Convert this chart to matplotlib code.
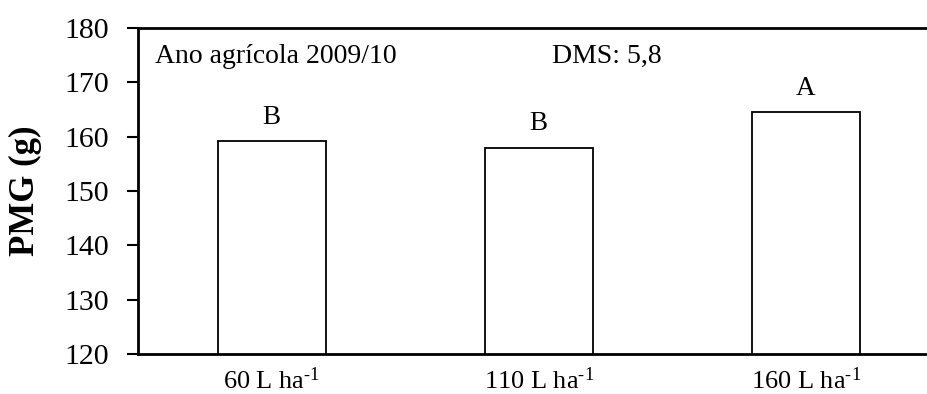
import matplotlib
matplotlib.use("Agg")
import matplotlib.pyplot as plt

# PMG por volume de calda, ano agrícola 2009/10
doses = [r"60 L ha$^{\text{-1}}$", r"110 L ha$^{\text{-1}}$", r"160 L ha$^{\text{-1}}$"]
pmg = [159.2, 158.0, 164.5]
letras = ["B", "B", "A"]
y_ticks = [120, 130, 140, 150, 160, 170, 180]

plt.rcParams["font.family"] = ["Liberation Serif", "DejaVu Serif"]
plt.rcParams["mathtext.fontset"] = "custom"
plt.rcParams["mathtext.rm"] = "Liberation Serif"
plt.rcParams["mathtext.it"] = "Liberation Serif:italic"
plt.rcParams["mathtext.bf"] = "Liberation Serif:bold"


def main() -> None:
    fig = plt.figure(figsize=(9.27, 3.94), dpi=100)
    ax = fig.add_axes([0.1489, 0.1015, 0.8646, 0.8274])

    x = range(len(doses))
    bars = ax.bar(x, pmg, width=0.405, bottom=0, color="white",
                  edgecolor="black", linewidth=1.3, zorder=2)

    for rect, val, letra in zip(bars, pmg, letras):
        ax.annotate(letra, (rect.get_x() + rect.get_width() / 2, val),
                    xytext=(0, 8), textcoords="offset points",
                    ha="center", va="bottom", fontsize=19.5)

    ax.text(-0.435, 173.6, "Ano agrícola 2009/10", ha="left", va="baseline",
            fontsize=20)
    ax.text(1.05, 173.6, "DMS: 5,8", ha="left", va="baseline", fontsize=20)

    ax.set_xlim(-0.5, 2.5)
    ax.set_ylim(120, 180)
    ax.set_yticks(y_ticks)
    ax.set_xticks(list(x))
    ax.set_xticklabels(doses, fontsize=19)
    ax.tick_params(axis="x", length=0, pad=10)
    ax.tick_params(axis="y", direction="out", length=8, width=1.5,
                   labelsize=21.5, pad=13)
    ax.set_ylabel("PMG (g)", fontsize=25, fontweight="bold", labelpad=16)

    ax.spines["right"].set_visible(False)
    for side in ("left", "bottom", "top"):
        ax.spines[side].set_linewidth(2)

    fig.savefig("out.png", dpi=100)
    plt.close(fig)


if __name__ == "__main__":
    main()
